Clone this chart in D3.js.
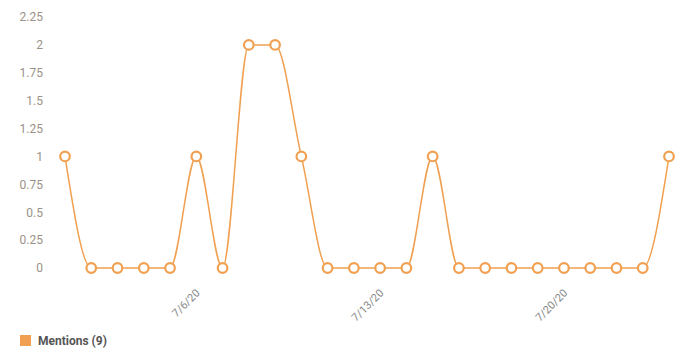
<!DOCTYPE html>
<html>
<head>
<meta charset="utf-8">
<script src="https://cdn.jsdelivr.net/npm/d3@7"></script>
<style>
  body { margin: 0; background: #fff; }
  text { font-family: Roboto, "Noto Sans", sans-serif; }
</style>
</head>
<body>
<svg width="686" height="352"></svg>
<script>
const dates = ["7/1/20","7/2/20","7/3/20","7/4/20","7/5/20","7/6/20","7/7/20","7/8/20",
    "7/9/20","7/10/20","7/11/20","7/12/20","7/13/20","7/14/20","7/15/20","7/16/20",
    "7/17/20","7/18/20","7/19/20","7/20/20","7/21/20","7/22/20","7/23/20","7/24/20"];
const mentions = [1,0,0,0,0,1,0,2,2,1,0,0,0,0,1,0,0,0,0,0,0,0,0,1];
const yTicks = [0, 0.25, 0.5, 0.75, 1, 1.25, 1.5, 1.75, 2, 2.25];
const xTickLabels = ["7/6/20", "7/13/20", "7/20/20"];

const svg = d3.select("svg");
const color = "#f0a050";

const x = d3.scalePoint().domain(dates).range([65, 669]);
const y = d3.scaleLinear().domain([0, 2.25]).range([268, 17]);

// y axis labels
svg.append("g")
    .attr("transform", "translate(43,0)")
    .call(d3.axisLeft(y).tickValues(yTicks).tickSize(0).tickPadding(0)
        .tickFormat(d => d3.format("")(d)))
    .call(g => g.select(".domain").remove())
    .call(g => g.selectAll("text")
        .attr("fill", "#999288")
        .style("font-size", "12px"));

// x axis labels, rotated
svg.append("g")
    .attr("transform", "translate(0,291)")
    .call(d3.axisBottom(x).tickValues(xTickLabels).tickSize(0).tickPadding(0))
    .call(g => g.select(".domain").remove())
    .call(g => g.selectAll("text")
        .attr("fill", "#888")
        .style("font-size", "11px")
        .attr("text-anchor", "end")
        .attr("dy", "0.35em")
        .attr("transform", "translate(1,0) rotate(-45)"));

const line = d3.line()
    .x((d, i) => x(dates[i]))
    .y(d => y(d))
    .curve(d3.curveMonotoneX);

svg.append("path")
    .datum(mentions)
    .attr("fill", "none")
    .attr("stroke", color)
    .attr("stroke-width", 1.5)
    .attr("d", line);

svg.selectAll(".pt")
    .data(mentions)
    .enter().append("circle")
    .attr("class", "pt")
    .attr("cx", (d, i) => x(dates[i]))
    .attr("cy", d => y(d))
    .attr("r", 4.8)
    .attr("fill", "#fff")
    .attr("stroke", color)
    .attr("stroke-width", 2.2);

// legend
const leg = svg.append("g").attr("transform", "translate(20,335)");
leg.append("rect")
    .attr("width", 11).attr("height", 11)
    .attr("fill", color);
leg.append("text")
    .attr("x", 18).attr("y", 10)
    .attr("fill", "#555")
    .style("font-size", "12px")
    .style("font-weight", "bold")
    .text(`Mentions (${d3.sum(mentions)})`);
</script>
</body>
</html>
